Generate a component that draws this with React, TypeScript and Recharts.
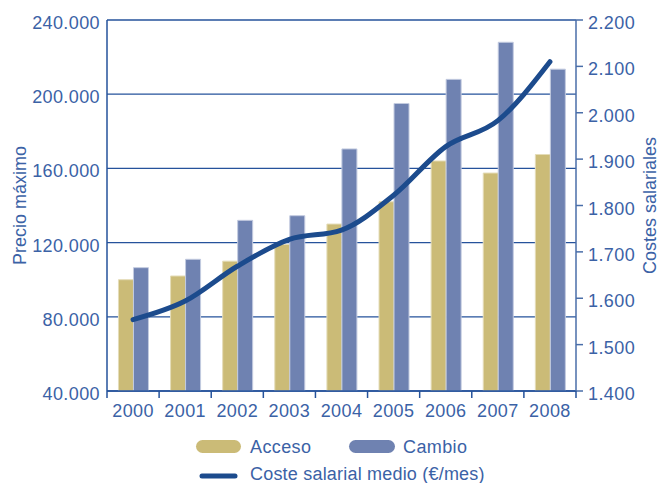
import React from 'react';
import { ComposedChart, Bar, Line, XAxis, YAxis, CartesianGrid, Legend } from 'recharts';

const years = ['2000', '2001', '2002', '2003', '2004', '2005', '2006', '2007', '2008'];
const acceso = [100000, 102000, 110000, 119000, 130000, 142000, 164000, 157500, 167500];
const cambio = [106500, 111000, 132000, 134500, 170500, 195000, 208000, 228000, 213500];
const coste = [1554, 1594, 1669, 1727, 1747, 1822, 1927, 1983, 2110];
const leftTicks = [40000, 80000, 120000, 160000, 200000, 240000];
const rightTicks = [1400, 1500, 1600, 1700, 1800, 1900, 2000, 2100, 2200];

const data = years.map((y, i) => ({ year: y, acceso: acceso[i], cambio: cambio[i], coste: coste[i] }));

const TEXT = '#3b62a6';
const AXIS = '#25529b';
const RAXIS = '#4a6ea9';
const C_ACC = '#cbbb77';
const C_CAM = '#6f82b1';
const C_LINE = '#1c4b8d';
const FONT = '"Liberation Sans", Arial, Helvetica, sans-serif';
const LS = 0.4;

const fmtThousands = (v: number) => String(v).replace(/\B(?=(\d{3})+(?!\d))/g, '.');

const XTick = (props: any) => {
  const { x, y, payload, index, width, visibleTicksCount } = props;
  const band = width / visibleTicksCount;
  const axisY = y - 9;
  return (
    <g>
      <line x1={x - band / 2} x2={x - band / 2} y1={axisY} y2={axisY + 7} stroke={AXIS} strokeWidth={1.5} />
      {index === visibleTicksCount - 1 && (
        <line x1={x + band / 2} x2={x + band / 2} y1={axisY} y2={axisY + 7} stroke={AXIS} strokeWidth={1.5} />
      )}
      <text x={x} y={axisY + 26} textAnchor="middle" fill={TEXT} fontSize={18} fontFamily={FONT} letterSpacing={LS}>
        {payload.value}
      </text>
    </g>
  );
};

const LeftTick = (props: any) => {
  const { x, y, payload } = props;
  return (
    <text x={x} y={y + 9} textAnchor="end" fill={TEXT} fontSize={18} fontFamily={FONT} letterSpacing={LS}>
      {fmtThousands(payload.value)}
    </text>
  );
};

const RightTick = (props: any) => {
  const { x, y, payload } = props;
  return (
    <text x={x} y={y + 9} textAnchor="start" fill={TEXT} fontSize={18} fontFamily={FONT} letterSpacing={LS}>
      {fmtThousands(payload.value)}
    </text>
  );
};

const LeftTitle = (props: any) => {
  const vb = props.viewBox || { x: 0, y: 20, width: 107, height: 371 };
  const cx = vb.x + 26;
  const cy = vb.y + vb.height / 2;
  return (
    <text transform={`translate(${cx},${cy}) rotate(-90)`} textAnchor="middle" fill={TEXT} fontSize={18} fontFamily={FONT}>
      Precio máximo
    </text>
  );
};

const RightTitle = (props: any) => {
  const vb = props.viewBox || { x: 576, y: 20, width: 83, height: 371 };
  const cx = vb.x + vb.width - 3;
  const cy = vb.y + vb.height / 2;
  return (
    <text transform={`translate(${cx},${cy}) rotate(-90)`} textAnchor="middle" fill={TEXT} fontSize={18} fontFamily={FONT}>
      Costes salariales
    </text>
  );
};

const LegendContent = () => (
  <svg width={659} height={62} style={{ display: 'block' }}>
    <rect x={196} y={19} width={45} height={13} rx={6.5} fill={C_ACC} />
    <text x={250} y={32} fill={TEXT} fontSize={18} fontFamily={FONT} letterSpacing={LS}>Acceso</text>
    <rect x={349} y={19} width={46} height={13} rx={6.5} fill={C_CAM} />
    <text x={403} y={32} fill={TEXT} fontSize={18} fontFamily={FONT} letterSpacing={LS}>Cambio</text>
    <line x1={202} x2={235} y1={55} y2={55} stroke={C_LINE} strokeWidth={5} strokeLinecap="round" />
    <text x={250} y={58.5} fill={TEXT} fontSize={18} fontFamily={FONT} letterSpacing={0.2}>Coste salarial medio (€/mes)</text>
  </svg>
);

export default function App() {
  return (
    <div style={{ position: 'absolute', left: 0, top: 0, width: 659, height: 483, background: '#fff' }}>
      <ComposedChart
        width={659}
        height={483}
        data={data}
        margin={{ top: 20, right: 0, bottom: 0, left: 0 }}
        barCategoryGap="22%"
        barGap={0}
      >
        <CartesianGrid vertical={false} stroke={AXIS} strokeWidth={1.3} yAxisId="left" />
        <XAxis
          dataKey="year"
          height={30}
          stroke={AXIS}
          strokeWidth={1.5}
          tickLine={false}
          tickSize={7}
          tickMargin={2}
          interval={0}
          tick={<XTick />}
        />
        <YAxis
          yAxisId="left"
          width={107}
          domain={[40000, 240000]}
          ticks={leftTicks}
          stroke={AXIS}
          strokeWidth={1.5}
          tickLine={false}
          tickSize={0}
          tickMargin={7}
          tick={<LeftTick />}
          label={<LeftTitle />}
          allowDataOverflow
        />
        <YAxis
          yAxisId="right"
          orientation="right"
          width={83}
          domain={[1400, 2200]}
          ticks={rightTicks}
          stroke={RAXIS}
          strokeWidth={1.5}
          tickSize={7}
          tickMargin={5}
          tick={<RightTick />}
          label={<RightTitle />}
          allowDataOverflow
        />
        <Legend verticalAlign="bottom" height={62} wrapperStyle={{ left: 0, width: 659, height: 62 }} content={<LegendContent />} />
        <Bar yAxisId="left" dataKey="acceso" name="Acceso" fill={C_ACC} stroke="#e4dcb8" strokeWidth={1} isAnimationActive={false} />
        <Bar yAxisId="left" dataKey="cambio" name="Cambio" fill={C_CAM} stroke="#c3cbe0" strokeWidth={1} isAnimationActive={false} />
        <Line
          yAxisId="right"
          type="monotone"
          dataKey="coste"
          name="Coste salarial medio (€/mes)"
          stroke={C_LINE}
          strokeWidth={5}
          strokeLinecap="round"
          dot={false}
          activeDot={false}
          isAnimationActive={false}
        />
      </ComposedChart>
    </div>
  );
}
